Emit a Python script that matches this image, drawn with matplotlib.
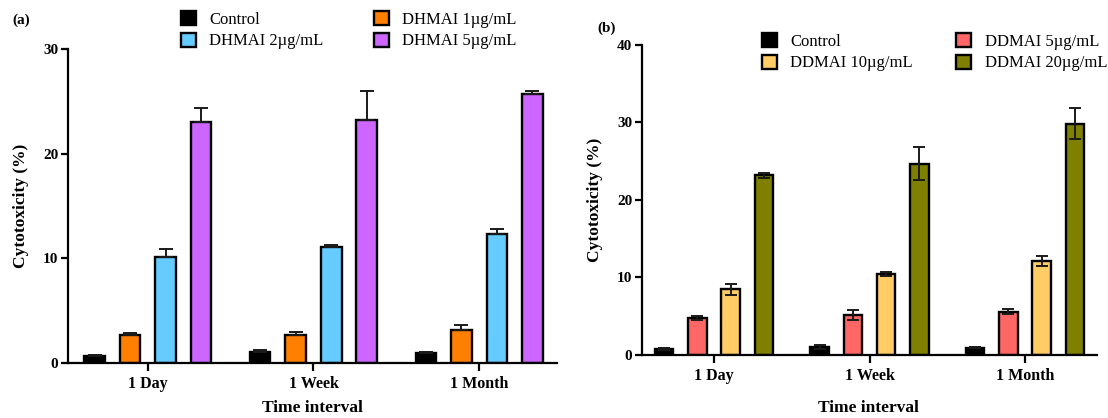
import matplotlib
matplotlib.use("Agg")
import matplotlib.pyplot as plt
import numpy as np

plt.rcParams['font.family'] = ['Liberation Serif', 'DejaVu Serif']

# ---- data ----
time_labels = ["1 Day", "1 Week", "1 Month"]

a_names = ["Control", "DHMAI 1\u00b5g/mL", "DHMAI 2\u00b5g/mL", "DHMAI 5\u00b5g/mL"]
a_colors = ["#000000", "#FF8000", "#66CCFF", "#CC66FF"]
a_control = [0.67, 1.02, 0.93]
a_dhmai1 = [2.65, 2.67, 3.18]
a_dhmai2 = [10.15, 11.1, 12.35]
a_dhmai5 = [23.0, 23.2, 25.7]
a_control_err = [0.09, 0.25, 0.09]
a_dhmai1_err = [0.18, 0.32, 0.42]
a_dhmai2_err = [0.71, 0.2, 0.45]
a_dhmai5_err = [1.4, 2.8, 0.3]

b_names = ["Control", "DDMAI 5\u00b5g/mL", "DDMAI 10\u00b5g/mL", "DDMAI 20\u00b5g/mL"]
b_colors = ["#000000", "#FF6666", "#FFCC66", "#808000"]
b_control = [0.73, 1.07, 0.94]
b_ddmai5 = [4.77, 5.15, 5.58]
b_ddmai10 = [8.47, 10.48, 12.15]
b_ddmai20 = [23.15, 24.65, 29.8]
b_control_err = [0.13, 0.26, 0.09]
b_ddmai5_err = [0.22, 0.6, 0.35]
b_ddmai10_err = [0.68, 0.25, 0.65]
b_ddmai20_err = [0.35, 2.15, 2.0]

W, H = 1108, 418
fig = plt.figure(figsize=(W / 100, H / 100), dpi=100)


def px_axes(l, r, t, b):
    return fig.add_axes([l / W, 1 - b / H, (r - l) / W, (b - t) / H])


def draw_panel(ax, series, errs, colors, names, spacing, width, ylim, yticks,
               xlim, upper_only, capsize):
    x = np.arange(len(time_labels))
    handles = []
    for i, (vals, err, c, n) in enumerate(zip(series, errs, colors, names)):
        pos = x + (i - 1.5) * spacing
        h = ax.bar(pos, vals, width, color=c, edgecolor="black",
                   linewidth=1.7, label=n, zorder=2)
        handles.append(h)
        if upper_only:
            yerr = [np.zeros(len(err)), err]
        else:
            yerr = err
        ax.errorbar(pos, vals, yerr=yerr, fmt="none", ecolor="#1a1a1a",
                    elinewidth=1.4, capsize=capsize, capthick=1.4, zorder=3)
    ax.set_xlim(*xlim)
    ax.set_ylim(*ylim)
    ax.set_yticks(yticks)
    ax.set_xticks(x)
    ax.set_xticklabels(time_labels, fontsize=11.5, fontweight="bold")
    ax.set_yticklabels([str(t) for t in yticks], fontsize=11, fontweight="bold")
    for s in ["top", "right"]:
        ax.spines[s].set_visible(False)
    for s in ["left", "bottom"]:
        ax.spines[s].set_linewidth(1.6)
    ax.tick_params(axis="both", direction="out", width=1.6, length=5, pad=2)
    ax.tick_params(axis="x", length=6, pad=3)
    return handles


order = [0, 2, 1, 3]

# ---- panel (a) ----
ax1 = px_axes(68, 557, 49, 363)
h1 = draw_panel(ax1, [a_control, a_dhmai1, a_dhmai2, a_dhmai5],
                [a_control_err, a_dhmai1_err, a_dhmai2_err, a_dhmai5_err],
                a_colors, a_names, 0.2145, 0.124, (0, 30), [0, 10, 20, 30],
                (-0.483, 2.471), True, 4.8)
ax1.set_ylabel("Cytotoxicity (%)", fontsize=12.5, fontweight="bold", labelpad=10)
fig.text(312 / W, 1 - 408 / H, "Time interval", fontsize=12.5,
         fontweight="bold", ha="center", va="center")
leg1 = ax1.legend([h1[i] for i in order], [a_names[i] for i in order],
                  ncol=2, frameon=False, loc="upper left",
                  bbox_to_anchor=(181 / W, 1 - 11 / H),
                  bbox_transform=fig.transFigure, fontsize=12,
                  handlelength=0.9, handleheight=0.9, handletextpad=0.8,
                  columnspacing=3.0, labelspacing=0.3, borderpad=0,
                  borderaxespad=0)
fig.text(12 / W, 1 - 20 / H, "(a)", fontsize=11, fontweight="bold",
         va="center", ha="left")

# ---- panel (b) ----
ax2 = px_axes(642, 1097, 44.6, 355)
h2 = draw_panel(ax2, [b_control, b_ddmai5, b_ddmai10, b_ddmai20],
                [b_control_err, b_ddmai5_err, b_ddmai10_err, b_ddmai20_err],
                b_colors, b_names, 0.2135, 0.119, (0, 40), [0, 10, 20, 30, 40],
                (-0.463, 2.463), False, 4.5)
ax2.set_ylabel("Cytotoxicity (%)", fontsize=12.5, fontweight="bold", labelpad=10)
fig.text(868 / W, 1 - 408 / H, "Time interval", fontsize=12.5,
         fontweight="bold", ha="center", va="center")
leg2 = ax2.legend([h2[i] for i in order], [b_names[i] for i in order],
                  ncol=2, frameon=False, loc="upper left",
                  bbox_to_anchor=(762 / W, 1 - 33 / H),
                  bbox_transform=fig.transFigure, fontsize=12,
                  handlelength=0.9, handleheight=0.9, handletextpad=0.8,
                  columnspacing=2.6, labelspacing=0.3, borderpad=0,
                  borderaxespad=0)
fig.text(597 / W, 1 - 28 / H, "(b)", fontsize=11, fontweight="bold",
         va="center", ha="left")

fig.savefig("out.png", dpi=100)
